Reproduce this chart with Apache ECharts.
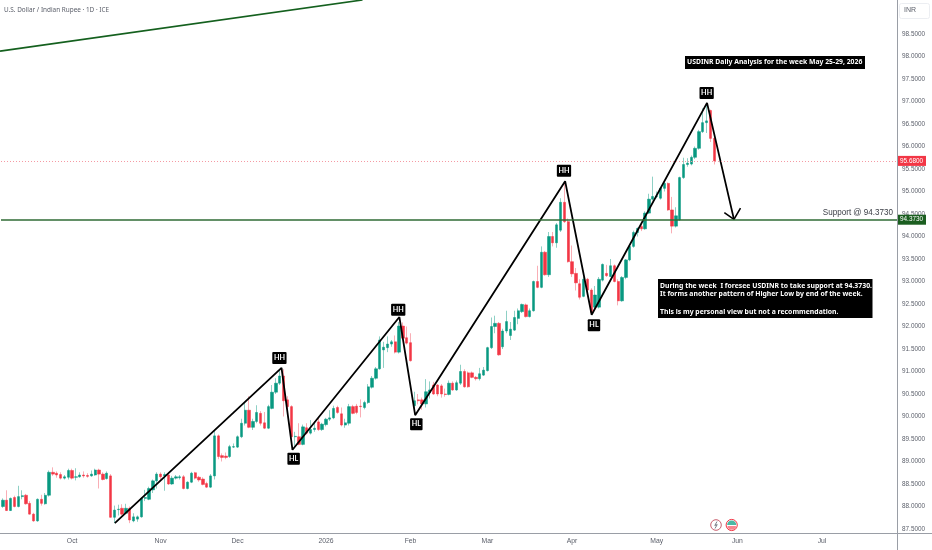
<!DOCTYPE html>
<html><head><meta charset="utf-8">
<style>html,body{margin:0;padding:0;background:#fff}#c{width:932px;height:550px}</style>
<script src="https://cdn.jsdelivr.net/npm/echarts@6/dist/echarts.min.js"></script>
</head><body><div id="c"></div>
<script>
// open, close, low, high per trading day, first candle 2025-09-05
const candles = [
[88.00,88.14,87.97,88.18],[88.14,87.91,87.90,88.36],[87.91,88.18,87.90,88.20],[88.20,88.00,87.98,88.24],[88.00,88.22,87.98,88.46],
[88.22,88.24,88.16,88.36],[88.25,88.06,88.04,88.28],[88.07,87.83,87.82,88.12],[87.83,87.68,87.66,87.86],[87.68,88.16,87.66,88.18],
[88.16,88.07,88.02,88.26],[88.06,88.25,88.04,88.30],[88.25,88.76,88.22,88.80],[88.76,88.72,88.68,88.87],[88.74,88.70,88.64,88.78],
[88.71,88.63,88.60,88.76],[88.63,88.66,88.60,88.70],[88.65,88.80,88.60,88.84],[88.80,88.63,88.60,88.84],[88.65,88.66,88.58,88.85],
[88.66,88.70,88.64,88.76],[88.70,88.68,88.64,88.78],[88.69,88.67,88.64,88.74],[88.68,88.72,88.66,88.80],[88.70,88.81,88.68,88.84],
[88.81,88.72,88.40,88.84],[88.72,88.60,88.58,88.76],[88.62,88.74,88.60,88.78],[88.68,87.76,87.75,88.72],[87.76,87.92,87.63,88.02],
[87.93,87.94,87.80,88.04],[87.96,87.83,87.80,88.05],[87.85,87.96,87.83,88.06],[87.96,87.70,87.63,88.00],[87.68,87.77,87.65,87.85],
[87.72,87.77,87.66,87.80],[87.77,88.18,87.75,88.20],[88.18,88.20,88.12,88.37],[88.16,88.40,88.14,88.44],[88.37,88.57,88.30,88.60],
[88.57,88.72,88.40,88.76],[88.72,88.66,88.60,88.76],[88.68,88.71,88.35,88.76],[88.70,88.50,88.48,88.76],[88.50,88.63,88.48,88.68],
[88.63,88.66,88.60,88.70],[88.64,88.66,88.60,88.70],[88.66,88.40,88.38,88.70],[88.40,88.54,88.38,88.56],[88.54,88.74,88.52,88.77],
[88.75,88.63,88.60,88.77],[88.65,88.59,88.55,88.68],[88.61,88.49,88.47,88.65],[88.51,88.43,88.41,88.55],[88.43,88.68,88.41,88.72],
[88.68,89.57,88.60,89.70],[89.57,89.11,89.05,89.60],[89.13,89.09,89.00,89.18],[89.12,89.09,89.05,89.20],[89.11,89.33,89.08,89.37],
[89.32,89.33,89.30,89.40],[89.32,89.55,89.30,89.58],[89.55,89.85,89.52,89.95],[89.85,90.14,89.80,90.30],[90.14,89.76,89.74,90.45],
[89.76,89.89,89.70,89.95],[89.89,90.09,89.85,90.25],[90.07,89.85,89.80,90.12],[89.86,89.74,89.72,90.10],[89.74,90.22,89.72,90.26],
[90.18,90.54,90.16,90.70],[90.54,90.74,90.50,90.85],[90.74,90.90,90.70,91.05],[90.90,90.35,90.00,91.05],[90.37,90.22,90.15,90.45],
[90.22,89.55,89.50,90.25],[89.55,89.56,89.35,89.66],[89.55,89.38,89.36,89.85],[89.38,89.77,89.36,89.82],[89.75,89.63,89.60,89.85],
[89.63,89.71,89.60,89.92],[89.71,89.74,89.66,89.90],[89.88,89.71,89.68,89.97],[89.71,89.83,89.68,89.86],[89.82,89.94,89.78,89.97],
[89.94,89.97,89.90,90.14],[89.97,90.18,89.94,90.24],[90.20,90.09,90.06,90.24],[90.06,89.81,89.78,90.20],[89.81,89.86,89.75,89.95],
[89.85,90.22,89.80,90.28],[90.22,90.07,90.05,90.26],[90.23,90.09,90.05,90.28],[90.23,90.22,89.98,90.38],[90.20,90.31,90.16,90.35],
[90.31,90.66,90.28,90.72],[90.65,90.85,90.62,90.90],[90.85,91.06,90.82,91.10],[91.06,91.70,91.04,91.78],[91.48,91.54,91.08,91.66],
[91.53,91.61,91.43,91.78],[91.61,91.66,91.55,91.70],[91.66,91.43,91.40,91.80],[91.43,92.01,91.40,92.10],[92.01,91.74,91.70,92.09],
[91.75,91.63,91.60,92.00],[91.64,91.24,91.22,91.85],[90.24,90.35,90.07,90.55],[90.37,90.35,90.27,90.50],[90.37,90.28,90.15,90.42],
[90.28,90.55,90.20,90.83],[90.53,90.59,90.40,90.78],[90.70,90.50,90.48,90.77],[90.70,90.50,90.45,90.72],[90.68,90.50,90.42,90.72],
[90.50,90.49,90.44,90.62],[90.49,90.74,90.47,90.80],[90.74,90.59,90.57,90.78],[90.59,90.75,90.57,90.80],[90.74,91.00,90.70,91.15],
[91.00,90.66,90.64,91.05],[90.97,90.66,90.64,91.00],[90.97,90.87,90.85,91.00],[90.87,90.84,90.80,90.90],[90.84,90.95,90.80,91.08],
[90.92,91.03,90.90,91.10],[91.02,91.53,91.00,91.55],[91.53,92.00,91.50,92.20],[92.00,92.07,91.85,92.24],[92.07,91.37,91.35,92.10],
[91.55,91.90,91.50,91.95],[91.90,92.11,91.85,92.35],[91.80,91.94,91.70,92.10],[91.92,92.20,91.90,92.35],[92.18,92.35,92.05,92.40],
[92.33,92.49,92.30,92.51],[92.48,92.22,92.20,92.51],[92.22,92.35,92.20,92.40],[92.35,93.00,92.33,93.02],[93.00,92.87,92.85,93.35],
[92.87,93.65,92.85,93.78],[93.65,93.15,93.13,93.68],[93.15,94.00,93.10,94.10],[94.00,93.86,93.78,94.10],[93.86,94.26,93.75,94.30],
[94.14,94.76,94.10,94.85],[94.76,94.33,94.30,95.20],[94.33,93.44,93.42,94.40],[93.44,93.17,93.10,93.80],[93.18,92.97,92.80,93.30],
[92.95,92.65,92.60,93.05],[92.67,93.05,92.65,93.10],[93.05,92.81,92.78,93.08],[92.81,92.31,92.29,92.85],[92.43,92.70,92.40,92.90],
[92.43,93.05,92.40,93.10],[93.03,93.38,93.00,93.40],[93.18,93.13,93.10,93.37],[93.11,93.35,93.10,93.50],[93.35,93.00,92.98,93.38],
[93.00,92.57,92.47,93.05],[92.57,93.09,92.55,93.12],[93.09,93.48,93.05,93.50],[93.48,93.78,93.45,93.82],[93.78,94.09,93.75,94.13],
[94.09,94.18,94.00,94.20],[94.22,94.17,94.12,94.28],[94.17,94.52,94.15,94.56],[94.52,94.83,94.50,94.95],[94.83,94.89,94.80,95.33],
[94.89,94.90,94.85,95.00],[94.85,95.07,94.82,95.10],[95.07,95.18,95.00,95.22],[95.18,94.59,94.57,95.20],[94.59,94.23,94.07,94.88],
[94.23,94.46,94.20,94.65],[94.37,95.31,94.35,95.33],[95.31,95.60,95.28,95.75],[95.60,95.63,95.55,95.74],[95.61,95.76,95.58,95.80],
[95.76,95.96,95.72,96.00],[95.96,96.33,95.93,96.37],[96.33,96.53,96.30,96.85],[96.53,96.57,96.30,96.97],[96.80,96.18,96.10,96.82],
[96.18,95.68,95.60,96.20]
];
const monthLabels = {'2025-10-01':'Oct','2025-11-03':'Nov','2025-12-01':'Dec','2026-01-01':'2026','2026-02-02':'Feb','2026-03-02':'Mar','2026-04-01':'Apr','2026-05-01':'May','2026-06-01':'Jun','2026-07-01':'Jul'};
const priceTicks = [87.5,88,88.5,89,89.5,90,90.5,91,91.5,92,92.5,93,93.5,94,94.5,95,95.5,96,96.5,97,97.5,98,98.5];
const lastPrice = 95.68;
const supportPrice = 94.373;
// drawing tools, in [bar number, price]
const zigzag = [[29.1,87.63],[72.45,91.08],[75.3,89.26],[103.1,92.21],[107.2,90.03],[146.2,95.23],[153.1,92.26],[183.1,96.97],[190.1,94.38]];
const arrowHead = [[187.6,94.53],[190.1,94.38],[191.8,94.63]];
const trendLine = [[-0.75,98.12],[93.5,99.2556]];
const pivotsHH = [[71.9,91.30],[102.8,92.37],[145.9,95.46],[183.0,97.19]];
const pivotsHL = [[75.6,89.06],[107.5,89.83],[153.7,92.03]];

const dates = [];
for (let d = Date.UTC(2025,8,5); dates.length < 233; d += 864e5) {
  const w = new Date(d).getUTCDay();
  if (w !== 0 && w !== 6) dates.push(new Date(d).toISOString().slice(0,10));
}
const GREEN='#089981', RED='#f23645', TXT='#5a5e69', LINEC='#9a9ea6';
const FONT='"Liberation Sans",sans-serif';
const NOTE='"Noto Sans",sans-serif';

const wickData = candles.map(c=>[c[0],c[1],c[2],c[3]]);
const bodyData = candles.map(c=>[c[0],c[1],Math.min(c[0],c[1]),Math.max(c[0],c[1])]);
const pivotLabel = t => ({show:true,position:'inside',formatter:t,color:'#fff',opacity:1,fontFamily:'"Lato",sans-serif',fontWeight:'bold',fontSize:7.2,
  backgroundColor:'#000',borderRadius:1,padding:[2.2,1.6,1.8,1.6],lineHeight:8});

const chart = echarts.init(document.getElementById('c'),null,{renderer:'canvas'});
chart.setOption({
  animation:false,
  backgroundColor:'#fff',
  grid:{left:1,right:35,top:0,bottom:17},
  xAxis:[
    {type:'category',data:dates,boundaryGap:true,axisLine:{show:false},axisTick:{show:false},splitLine:{show:false},
     axisLabel:{interval:(i,v)=>v in monthLabels,formatter:v=>monthLabels[v]||'',color:TXT,fontFamily:FONT,fontSize:6.8,margin:5,hideOverlap:false,showMinLabel:true,showMaxLabel:true}},
    {type:'value',min:-0.5,max:232.5,show:false}
  ],
  yAxis:{type:'value',position:'right',min:87.411,max:99.2556,scale:true,axisLine:{show:false},axisTick:{show:false},splitLine:{show:false},
    axisLabel:{customValues:priceTicks,formatter:v=>v.toFixed(4),color:TXT,fontFamily:FONT,fontSize:6.4,margin:5,showMinLabel:true,showMaxLabel:true}},
  series:[
    {type:'candlestick',name:'wicks',data:wickData,barWidth:1,z:2,silent:true,
     itemStyle:{color:'#8ed0c5',color0:'#f9aeb5',borderColor:'#8ed0c5',borderColor0:'#f9aeb5',borderWidth:1},
     markLine:{silent:true,symbol:'none',animation:false,precision:4,z:8,
       data:[
        {yAxis:lastPrice,lineStyle:{color:'#f59aa3',type:[1,2],width:1},
         label:{show:true,position:'end',distance:0,formatter:lastPrice.toFixed(4),color:'#fff',backgroundColor:RED,fontFamily:FONT,fontSize:6.4,padding:[1.5,2,1.5,3],width:24,lineHeight:7}},
        {yAxis:supportPrice,lineStyle:{color:'#2f6b34',type:'solid',width:1.6},
         label:{show:true,position:'end',distance:0,formatter:supportPrice.toFixed(4),color:'#fff',backgroundColor:'#1b5e20',fontFamily:FONT,fontSize:6.4,padding:[1.5,2,1.5,3],width:24,lineHeight:7}}
       ]}},
    {type:'candlestick',name:'bodies',data:bodyData,barWidth:2.8,z:3,silent:true,
     itemStyle:{color:GREEN,color0:RED,borderColor:GREEN,borderColor0:RED,borderWidth:0.5}},
    {type:'line',name:'zigzag',xAxisIndex:1,data:zigzag,showSymbol:false,z:5,silent:true,lineStyle:{color:'#000',width:1.8}},
    {type:'line',name:'arrow',xAxisIndex:1,data:arrowHead,showSymbol:false,z:5,silent:true,lineStyle:{color:'#000',width:1.6}},
    {type:'line',name:'trend',xAxisIndex:1,data:trendLine,showSymbol:false,z:4,silent:true,lineStyle:{color:'#14601e',width:1.7}},
    {type:'scatter',name:'HH',xAxisIndex:1,data:pivotsHH,symbolSize:1,itemStyle:{color:'rgba(0,0,0,0)',opacity:1},z:6,silent:true,label:pivotLabel('HH')},
    {type:'scatter',name:'HL',xAxisIndex:1,data:pivotsHL,symbolSize:1,itemStyle:{color:'rgba(0,0,0,0)',opacity:1},z:6,silent:true,label:pivotLabel('HL')}
  ],
  graphic:[
    {type:'line',z:20,silent:true,shape:{x1:0,y1:533.5,x2:932,y2:533.5},style:{stroke:LINEC,lineWidth:1}},
    {type:'line',z:20,silent:true,shape:{x1:897.5,y1:0,x2:897.5,y2:550},style:{stroke:LINEC,lineWidth:1}},
    {type:'rect',z:20,silent:true,shape:{x:899.5,y:3.5,width:30,height:15,r:2},style:{fill:'#fff',stroke:'#eceef2',lineWidth:1}},
    {type:'text',z:21,silent:true,x:904,y:7,style:{text:'INR',fill:TXT,font:'7px '+FONT}},
    {type:'text',z:21,silent:true,x:4,y:6,scaleX:0.82,style:{text:'U.S. Dollar / Indian Rupee · 1D · ICE',fill:TXT,font:'7.8px '+NOTE}},
    {type:'text',z:21,silent:true,x:893,y:207,scaleX:0.85,style:{text:'Support @ 94.3730',fill:'#3a3d45',align:'right',font:'9.5px '+FONT}},
    {type:'rect',z:21,silent:true,shape:{x:685,y:56,width:180,height:13},style:{fill:'#000'}},
    {type:'text',z:22,silent:true,x:687,y:58,scaleX:0.875,style:{text:'USDINR Daily Analysis for the week May 25-29, 2026',fill:'#fff',font:'bold 7.8px '+NOTE}},
    {type:'rect',z:21,silent:true,shape:{x:658,y:279,width:214.5,height:39},style:{fill:'#000'}},
    {type:'text',z:22,silent:true,x:660,y:281,scaleX:0.88,style:{text:'During the week  I foresee USDINR to take support at 94.3730.\nIt forms another pattern of Higher Low by end of the week.\n\nThis is my personal view but not a recommendation.',fill:'#fff',font:'bold 7.8px '+NOTE,lineHeight:8.7}},
    {type:'circle',z:21,silent:true,shape:{cx:716,cy:525,r:5.3},style:{fill:'#fff',stroke:'#c9606e',lineWidth:1}},
    {type:'polyline',z:22,silent:true,shape:{points:[[717,521.5],[714.8,525.5],[717.2,524.6],[715,528.5]]},style:{fill:'none',stroke:'#5a5e69',lineWidth:0.8}},
    {type:'circle',z:21,silent:true,shape:{cx:731.7,cy:525,r:5.6},style:{fill:'#fff',stroke:RED,lineWidth:1}},
    {type:'sector',z:22,silent:true,shape:{cx:731.7,cy:525,r:4.6,r0:0,startAngle:Math.PI,endAngle:2*Math.PI},style:{fill:'#4bb8a4'}},
    {type:'rect',z:23,silent:true,shape:{x:727.5,y:526.4,width:8.4,height:1.2},style:{fill:RED}},
    {type:'rect',z:23,silent:true,shape:{x:728.5,y:528.4,width:6.4,height:1},style:{fill:RED}}
  ]
});
</script></body></html>
